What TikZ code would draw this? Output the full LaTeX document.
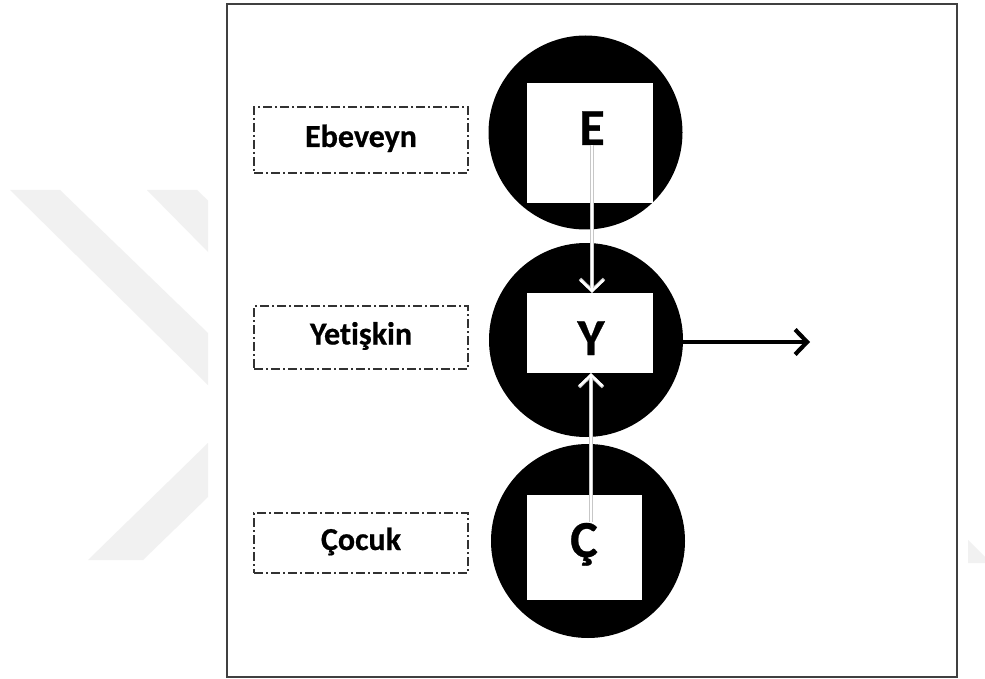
\documentclass[tikz,border=0pt]{standalone}
\usepackage{fontspec}
\setmainfont{Carlito}[Ligatures=NoCommon,BoldFeatures={FakeBold=0.6}]
\usetikzlibrary{arrows.meta}
\definecolor{wm}{RGB}{241,241,241}
\definecolor{framec}{RGB}{64,64,64}
\definecolor{dashc}{RGB}{50,50,50}
\begin{document}
\begin{tikzpicture}[x=1pt,y=-1pt,
  circ/.style={circle,fill=black,minimum size=194pt,inner sep=0pt},
  sq/.style={rectangle,fill=white,inner sep=0pt},
  big/.style={font=\fontsize{52}{52}\selectfont\bfseries,inner sep=0pt,anchor=base},
  lab/.style={draw=dashc,line width=1.3pt,dash pattern=on 9pt off 3pt on 2pt off 3pt,
    minimum width=214pt,inner sep=0pt,text height=20pt,text depth=6pt,
    font=\fontsize{32}{32}\selectfont\bfseries},
  shadowarr/.style={draw=black!22,line width=3.4pt,-{Straight Barb[length=11.5pt,width=24pt]}},
  whitearr/.style={draw=white,line width=2.4pt,-{Straight Barb[length=11pt,width=23pt]}},
  blackarr/.style={draw=black,line width=4.2pt,-{Straight Barb[length=12pt,width=25pt]}}
]
\useasboundingbox (0,0) rectangle (985,679);
\fill[white] (0,0) rectangle (985,679);
% faint watermark
\fill[wm] (10,190) -- (60,190) -- (208,333) -- (208,385) -- cycle;
\fill[wm] (147,190) -- (197,190) -- (208,200.6) -- (208,252) -- cycle;
\fill[wm] (88,560) -- (143,560) -- (208,497) -- (208,443) -- cycle;
\fill[wm] (968,540) -- (985,557) -- (985,563) -- (968,563) -- cycle;
% frame
\draw[framec,line width=2pt] (227,4) rectangle (957,677);
% circles
\node[circ] (Ec) at (585.5,132.5) {};
\node[circ] (Yc) at (586,340) {};
\node[circ] (Cc) at (588,541) {};
% white boxes
\node[sq,minimum width=126pt,minimum height=120pt] (Er) at (590,143) {};
\node[sq,minimum width=126pt,minimum height=80pt] (Yr) at (590,333) {};
\node[sq,minimum width=115pt,minimum height=105pt] (Cr) at (584.5,547.5) {};
% letters
\node[big] (Et) at (592,145) {E};
\node[big] (Yt) at (591,355) {Y};
\node[big] (Ct) at (584,557) {Ç};
% arrows
\draw[shadowarr] (Et.south) -- (Et.south |- Yr.north);
\draw[whitearr] (Et.south) -- (Et.south |- Yr.north);
\coordinate (Cup) at (591,522);
\draw[shadowarr] (Cup) -- (Cup |- Yr.south);
\draw[whitearr] (Cup) -- (Cup |- Yr.south);
\coordinate (out) at (810,342);
\draw[blackarr] (Yc.east |- out) -- (out);
% labels
\node[lab,minimum height=66pt] (Lb) at (361,140) {Ebeveyn};
\node[lab,minimum height=63pt] (Ly) at (361,337.5) {Yetişkin};
\node[lab,minimum height=60pt] (Lc) at (361,543) {Çocuk};
\end{tikzpicture}
\end{document}
